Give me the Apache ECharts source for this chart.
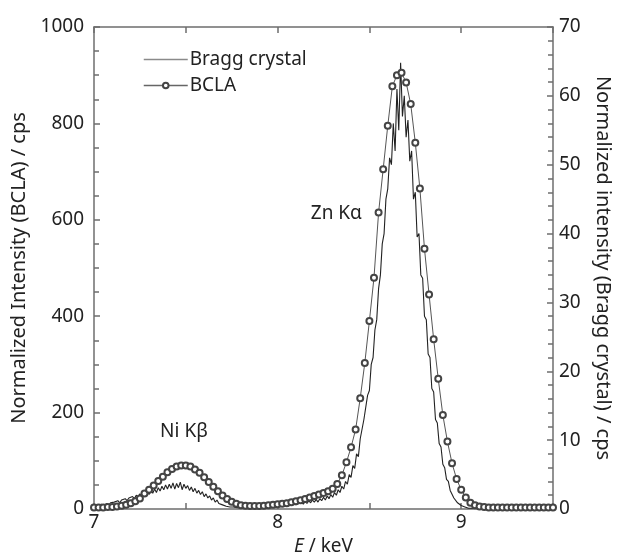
<!DOCTYPE html>
<html>
<head>
<meta charset="utf-8">
<script src="https://cdn.jsdelivr.net/npm/echarts@6/dist/echarts.min.js"></script>
<style>
  html, body { margin: 0; padding: 0; background: #fff; }
  #chart { width: 619px; height: 556px; }
</style>
</head>
<body>
<div id="chart"></div>
<script>
// BCLA: sampled every 0.025 keV from 7.000 keV (left axis, cps)
const bclaStart = 7.0;
const bclaStep = 0.025;
const bclaCps = [
  3, 3, 3, 4, 4, 5, 7, 9, 12, 16,
  22, 32, 40, 49, 58, 67, 76, 83, 88, 90,
  90, 88, 82, 75, 66, 56, 46, 37, 28, 21,
  15, 11, 8, 7, 6, 6, 6, 7, 8, 9,
  10, 11, 12, 14, 16, 18, 21, 24, 27, 30,
  33, 37, 42, 52, 70, 97, 128, 165, 230, 303,
  390, 480, 615, 705, 795, 877, 900, 905, 885, 840,
  760, 665, 540, 445, 352, 270, 195, 140, 95, 62,
  40, 24, 13, 8, 5, 4, 3, 3, 3, 3,
  3, 3, 3, 3, 3, 3, 3, 3, 3, 3,
  3
];

// Bragg crystal: sampled every 0.01 keV from 7.00 keV (right axis, cps)
const braggStart = 7.0;
const braggStep = 0.01;
const braggCps = [
  0.4, 0.6, 0.3, 0.5, 0.7, 0.4, 0.6, 0.8, 0.5, 0.9,
  0.7, 1.0, 0.8, 1.2, 0.9, 1.3, 1.1, 1.5, 1.2, 1.6,
  1.4, 1.8, 1.5, 2.0, 1.7, 2.2, 1.8, 2.4, 2.0, 2.5,
  2.1, 2.7, 2.3, 2.9, 2.4, 3.1, 2.6, 3.3, 2.8, 3.5,
  2.9, 3.6, 3.0, 3.8, 2.9, 3.7, 3.1, 3.9, 2.8, 3.6,
  3.0, 3.4, 2.7, 3.2, 2.5, 3.0, 2.3, 2.7, 2.1, 2.5,
  1.8, 2.2, 1.6, 1.9, 1.3, 1.6, 1.0, 1.3, 0.8, 1.0,
  0.6, 0.8, 0.4, 0.6, 0.3, 0.5, 0.3, 0.4, 0.2, 0.4,
  0.3, 0.4, 0.2, 0.4, 0.3, 0.5, 0.3, 0.4, 0.3, 0.5,
  0.3, 0.5, 0.4, 0.5, 0.3, 0.6, 0.4, 0.6, 0.4, 0.6,
  0.5, 0.7, 0.5, 0.7, 0.5, 0.8, 0.6, 0.8, 0.6, 0.9,
  0.6, 0.9, 0.7, 1.0, 0.7, 1.1, 0.8, 1.2, 0.9, 1.3,
  1.0, 1.4, 1.0, 1.5, 1.2, 1.7, 1.3, 1.9, 1.5, 2.1,
  1.7, 2.4, 2.0, 2.8, 2.4, 3.3, 2.9, 4.0, 3.6, 5.0,
  4.6, 6.3, 5.9, 8.0, 7.6, 10.2, 10.0, 13.0, 13.2, 16.5,
  17.2, 21.0, 22.0, 26.0, 27.5, 32.0, 34.0, 38.5, 40.0, 45.0,
  46.5, 51.0, 50.0, 56.0, 52.0, 61.0, 55.0, 64.8, 57.0, 60.0,
  54.0, 56.5, 50.5, 52.0, 45.0, 46.0, 39.5, 40.0, 34.0, 33.5,
  28.0, 27.5, 22.5, 22.0, 17.5, 17.0, 13.0, 12.5, 9.5, 9.0,
  6.5, 6.0, 4.3, 4.0, 2.7, 2.5, 1.6, 1.5, 0.9, 0.8,
  0.5, 0.4, 0.3, 0.2, 0.1, 0.2, 0.1, 0.1, 0.2, 0.1,
  0.1, 0.1, 0.2, 0.1, 0.1, 0.1, 0.2, 0.1, 0.1, 0.1,
  0.1, 0.2, 0.1, 0.1, 0.1, 0.1, 0.2, 0.1, 0.1, 0.1,
  0.1, 0.1, 0.2, 0.1, 0.1, 0.1, 0.1, 0.2, 0.1, 0.1,
  0.1, 0.1, 0.1, 0.2, 0.1, 0.1, 0.1, 0.1, 0.1, 0.1,
  0.1
];

const xTickLabels = ["7", "8", "9"];
const peakLabels = [
  { name: "Ni Kβ", coord: [7.49, 160] },
  { name: "Zn Kα", coord: [8.32, 612] },
];

const txt = "#222";
const axisCol = "#6e6e6e";
const font = "Noto Sans";

const bcla = bclaCps.map((v, i) => [+(bclaStart + i * bclaStep).toFixed(3), v]);
const bragg = braggCps.map((v, i) => [+(braggStart + i * braggStep).toFixed(2), v]);

const chart = echarts.init(document.getElementById("chart"));

const tickStyle = { color: axisCol, width: 1.5 };

const xCommon = {
  type: "value",
  min: 7,
  max: 9.5,
  interval: 0.5,
  axisLine: { show: true, onZero: false, lineStyle: { color: axisCol, width: 1.5 } },
  axisTick: { show: true, inside: true, length: 6, lineStyle: tickStyle },
  splitLine: { show: false },
};

const option = {
  animation: false,
  textStyle: { fontFamily: font },
  grid: { left: 94, right: 66, top: 27, bottom: 47, outerBoundsMode: "none", containLabel: false },
  legend: {
    orient: "vertical",
    left: 138,
    top: 45,
    itemWidth: 44,
    itemHeight: 7,
    itemGap: 7,
    textStyle: { fontSize: 19, color: txt, fontFamily: font, padding: [0, 0, 0, -3] },
    data: [
      { name: "Bragg crystal", itemStyle: { opacity: 0 }, lineStyle: { color: "#8a8a8a", width: 1.5 } },
      { name: "BCLA", lineStyle: { color: "#666", width: 1.5 } },
    ],
  },
  xAxis: [
    Object.assign({}, xCommon, {
      position: "bottom",
      name: "{it|E} / keV",
      nameLocation: "middle",
      nameGap: 28,
      nameTextStyle: {
        fontSize: 19,
        color: txt,
        rich: { it: { fontStyle: "italic", fontSize: 19, color: txt, fontFamily: font } },
      },
      axisLabel: {
        fontSize: 19,
        color: txt,
        margin: 4,
        formatter: (v) => (xTickLabels.includes(String(v)) ? String(v) : ""),
      },
    }),
    Object.assign({}, xCommon, {
      position: "top",
      axisLabel: { show: false },
    }),
  ],
  yAxis: [
    {
      type: "value",
      position: "left",
      min: 0,
      max: 1000,
      interval: 200,
      name: "Normalized Intensity (BCLA) / cps",
      nameLocation: "middle",
      nameGap: 58,
      nameTextStyle: { fontSize: 20, color: txt },
      axisLine: { show: true, lineStyle: { color: axisCol, width: 1.5 } },
      axisTick: { show: true, inside: true, length: 6, lineStyle: tickStyle },
      minorTick: { show: true, splitNumber: 4, length: 5, lineStyle: tickStyle },
      axisLabel: { fontSize: 19, color: txt, margin: 10, formatter: (v) => String(v) },
      splitLine: { show: false },
      minorSplitLine: { show: false },
    },
    {
      type: "value",
      position: "right",
      min: 0,
      max: 70,
      interval: 10,
      name: "Normalized intensity (Bragg crystal) / cps",
      nameLocation: "middle",
      nameGap: 40,
      nameRotate: -90,
      nameTextStyle: { fontSize: 20, color: txt },
      axisLine: { show: true, lineStyle: { color: axisCol, width: 1.5 } },
      axisTick: { show: true, inside: true, length: 6, lineStyle: tickStyle },
      minorTick: { show: true, splitNumber: 5, length: 5, lineStyle: tickStyle },
      axisLabel: { fontSize: 19, color: txt, margin: 6 },
      splitLine: { show: false },
      minorSplitLine: { show: false },
    },
  ],
  series: [
    {
      name: "Bragg crystal",
      type: "line",
      yAxisIndex: 1,
      data: bragg,
      symbol: "none",
      lineStyle: { color: "#222", width: 1.1 },
      itemStyle: { color: "#888" },
      z: 2,
    },
    {
      name: "BCLA",
      type: "line",
      yAxisIndex: 0,
      data: bcla,
      symbol: "emptyCircle",
      symbolSize: 6,
      showAllSymbol: true,
      lineStyle: { color: "#555", width: 1 },
      itemStyle: { color: "#444", borderColor: "#444", borderWidth: 1 },
      z: 3,
      markPoint: {
        symbol: "circle",
        symbolSize: 0,
        label: { show: true, position: "inside", formatter: "{b}", fontSize: 19, color: txt, fontFamily: font },
        data: peakLabels,
      },
    },
  ],
};

chart.setOption(option);
</script>
</body>
</html>
